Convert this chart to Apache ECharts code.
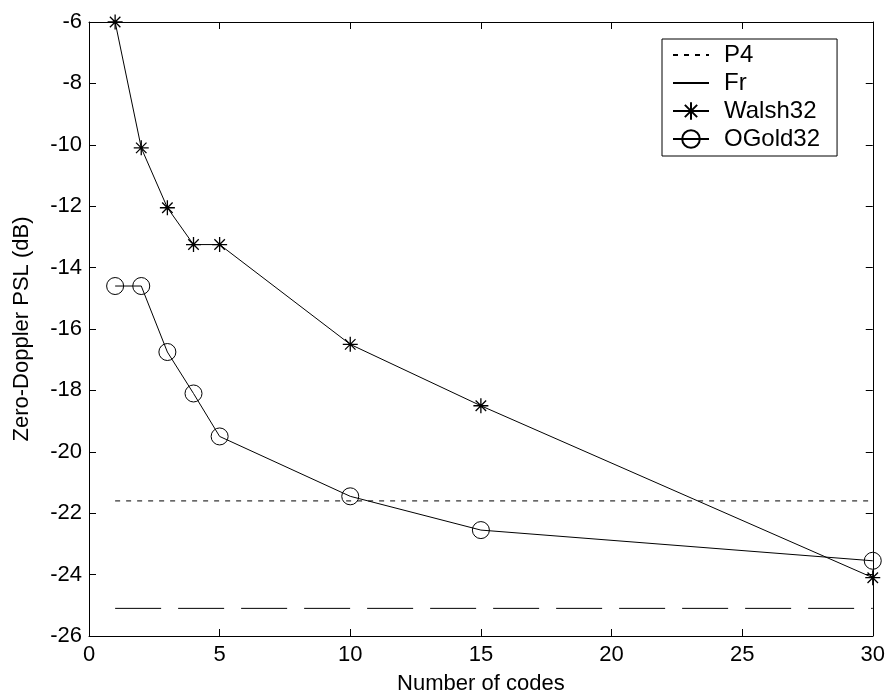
<!DOCTYPE html>
<html><head><meta charset="utf-8">
<script src="https://cdn.jsdelivr.net/npm/echarts@6/dist/echarts.min.js"></script>
<style>html,body{margin:0;padding:0;background:#fff}#c{width:888px;height:700px}</style>
</head><body><div id="c"></div>
<script>
const walshX = [1, 2, 3, 4, 5, 10, 15, 30];
const walshY = [-6, -10.1, -12.05, -13.25, -13.25, -16.5, -18.5, -24.1];
const goldX = [1, 2, 3, 4, 5, 10, 15, 30];
const goldY = [-14.6, -14.6, -16.75, -18.1, -19.5, -21.45, -22.55, -23.55];
const p4X = [1, 30];
const p4Y = [-21.6, -21.6];
const frX = [1, 30];
const frY = [-25.1, -25.1];
const xTicks = [0, 5, 10, 15, 20, 25, 30];
const yTicks = [-26, -24, -22, -20, -18, -16, -14, -12, -10, -8, -6];

const zip = (a, b) => a.map((v, i) => [v, b[i]]);
const star = 'path://M0,-10L0,10M-10,0L10,0M-7,-7L7,7M-7,7L7,-7';
const font = 'Liberation Sans, Arial, sans-serif';

const chart = echarts.init(document.getElementById('c'));
const axisCommon = {
  axisLine: {show: true, onZero: false, lineStyle: {color: '#000', width: 1}},
  axisTick: {show: true, inside: true, length: 7, lineStyle: {color: '#000'}},
  splitLine: {show: false}
};
const hidden = {opacity: 0, borderWidth: 0, color: 'rgba(0,0,0,0)'};
chart.setOption({
  animation: false,
  backgroundColor: '#fff',
  grid: {left: 89, right: 13, top: 22, bottom: 60, containLabel: false},
  xAxis: [
    Object.assign({type: 'value', min: xTicks[0], max: xTicks[xTicks.length - 1], interval: 5, position: 'bottom',
      name: 'Number of codes', nameLocation: 'middle', nameGap: 37,
      nameTextStyle: {fontFamily: font, fontSize: 22, color: '#000'},
      axisLabel: {fontFamily: font, fontSize: 22, color: '#000', margin: 8}}, axisCommon),
    Object.assign({type: 'value', min: 0, max: 30, interval: 5, position: 'top',
      axisLabel: {show: false}}, axisCommon)
  ],
  yAxis: [
    Object.assign({type: 'value', min: yTicks[0], max: yTicks[yTicks.length - 1], interval: 2, position: 'left',
      name: 'Zero-Doppler PSL (dB)', nameLocation: 'middle', nameGap: 56,
      nameTextStyle: {fontFamily: font, fontSize: 22, color: '#000'},
      axisLabel: {fontFamily: font, fontSize: 22, color: '#000', margin: 7}}, axisCommon),
    Object.assign({type: 'value', min: -26, max: -6, interval: 2, position: 'right',
      axisLabel: {show: false}}, axisCommon)
  ],
  legend: {
    orient: 'vertical', left: 662, top: 39,
    backgroundColor: '#fff', borderColor: '#000', borderWidth: 1, borderRadius: 0,
    padding: [4, 17, 5, 10], itemGap: 4, itemWidth: 36, itemHeight: 22,
    textStyle: {fontFamily: font, fontSize: 24, color: '#000', padding: [0, 0, 0, 10]},
    data: [
      {name: 'P4', itemStyle: hidden},
      {name: 'Fr', lineStyle: {type: 'solid'}, itemStyle: hidden},
      {name: 'Walsh32'},
      {name: 'OGold32'}
    ]
  },
  series: [
    {name: 'P4', type: 'line', data: zip(p4X, p4Y), showSymbol: false, symbol: 'none',
      lineStyle: {color: '#000', width: 1, type: [5, 6]}, itemStyle: {color: '#000'}},
    {name: 'Fr', type: 'line', data: zip(frX, frY), showSymbol: false, symbol: 'none',
      lineStyle: {color: '#000', width: 1, type: [46, 17]}, itemStyle: {color: '#000'}},
    {name: 'Walsh32', type: 'line', data: zip(walshX, walshY), clip: false,
      symbol: star, symbolSize: 15,
      lineStyle: {color: '#000', width: 1},
      itemStyle: {color: 'none', borderColor: '#000', borderWidth: 1.3}},
    {name: 'OGold32', type: 'line', data: zip(goldX, goldY), clip: false,
      symbol: 'circle', symbolSize: 17,
      lineStyle: {color: '#000', width: 1},
      itemStyle: {color: 'rgba(0,0,0,0)', borderColor: '#000', borderWidth: 1}}
  ]
});
</script></body></html>
